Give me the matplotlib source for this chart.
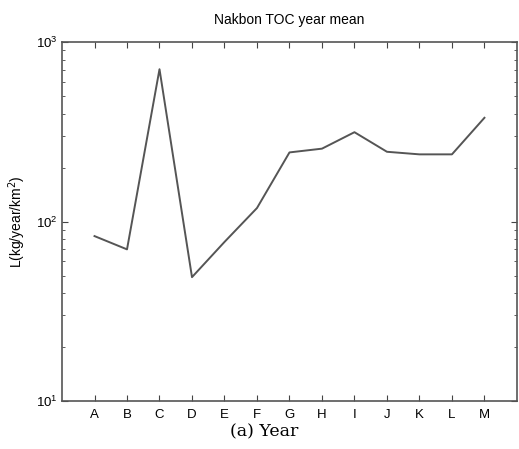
# Nakbon TOC annual mean load, log scale
import numpy as np
import matplotlib.pyplot as plt
from matplotlib.ticker import LogLocator, NullFormatter

plt.rcParams['font.family'] = ['Liberation Sans', 'DejaVu Sans']

# yearly data
years = ['A', 'B', 'C', 'D', 'E', 'F', 'G', 'H', 'I', 'J', 'K', 'L', 'M']
toc_load = [83, 70, 707, 49, 77, 119, 243, 255, 315, 245, 237, 237, 379]

fig = plt.figure(figsize=(5.19, 4.49), dpi=100)
ax = fig.add_axes([0.1195, 0.107, 0.8765, 0.799])

x = np.arange(1, len(years) + 1)
ax.plot(x, toc_load, color='#555555', linewidth=1.4)

ax.set_yscale('log')
ax.set_ylim(10, 1000)
ax.set_xlim(0, 14)
ax.set_xticks(x)
ax.set_xticklabels(years)
ax.yaxis.set_major_locator(LogLocator(base=10))
ax.yaxis.set_minor_locator(LogLocator(base=10, subs=np.arange(2, 10)))
ax.yaxis.set_minor_formatter(NullFormatter())
ax.tick_params(axis='both', which='both', direction='in', top=True, right=True,
               labelsize=9.5, color='#444444')
ax.tick_params(which='major', length=4)
ax.tick_params(which='minor', length=2.5)
ax.tick_params(axis='x', pad=6)
for s in ax.spines.values():
    s.set_color('#555555')
    s.set_linewidth(1.2)

ax.set_title('Nakbon TOC year mean', fontsize=10, pad=13)
ax.set_ylabel('L(kg/year/km$^2$)', fontsize=10)
ax.yaxis.set_label_coords(-0.075, 0.5)
ax.set_xlabel('(a) Year', fontsize=12.5, family=['DejaVu Serif'])
ax.xaxis.set_label_coords(0.444, -0.062)

fig.savefig('out.png', dpi=100)
